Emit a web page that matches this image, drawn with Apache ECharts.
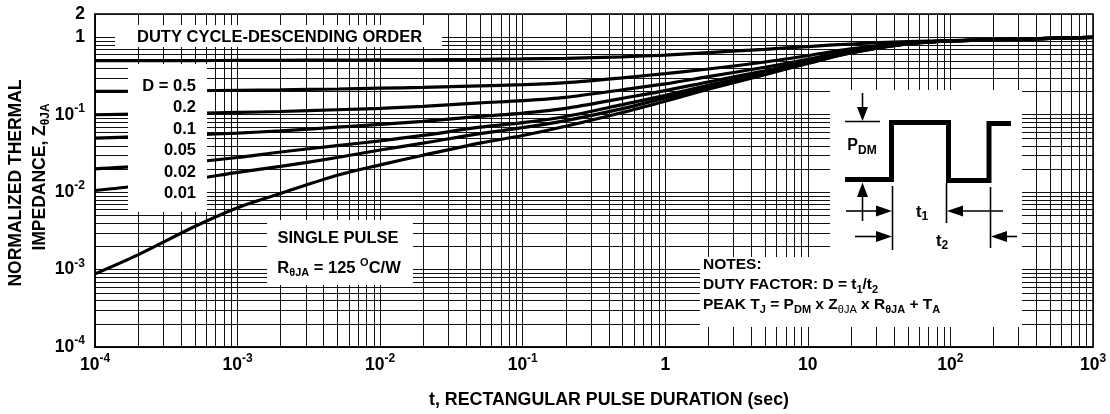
<!DOCTYPE html>
<html><head><meta charset="utf-8">
<script src="https://cdn.jsdelivr.net/npm/echarts@6/dist/echarts.min.js"></script>
<style>html,body{margin:0;padding:0;background:#fff}#c{width:1110px;height:414px}</style>
</head><body><div id="c"></div>
<script>
// ---------------- DATA ----------------
const tValues = [1e-4, 2e-4, 5e-4, 1e-3, 2e-3, 5e-3, 1e-2, 2e-2, 5e-2, 0.1, 0.2, 0.5, 1, 2, 5, 10, 20, 50, 100, 200, 500, 1000];
const zD050 = [0.5, 0.5, 0.501, 0.503, 0.505, 0.507, 0.51, 0.513, 0.518, 0.525, 0.535, 0.56, 0.59, 0.635, 0.7, 0.76, 0.82, 0.88, 0.91, 0.935, 0.97, 1.0];
const zD020 = [0.2, 0.201, 0.204, 0.207, 0.21, 0.215, 0.22, 0.226, 0.236, 0.245, 0.26, 0.3, 0.34, 0.39, 0.48, 0.58, 0.71, 0.85, 0.9, 0.93, 0.97, 1.0];
const zD010 = [0.1, 0.102, 0.104, 0.107, 0.11, 0.116, 0.121, 0.128, 0.142, 0.152, 0.168, 0.21, 0.25, 0.31, 0.41, 0.52, 0.67, 0.84, 0.9, 0.93, 0.97, 1.0];
const zD005 = [0.05, 0.052, 0.055, 0.058, 0.062, 0.069, 0.075, 0.082, 0.095, 0.105, 0.121, 0.163, 0.205, 0.265, 0.37, 0.49, 0.65, 0.83, 0.9, 0.93, 0.97, 1.0];
const zD002 = [0.02, 0.0215, 0.0245, 0.028, 0.033, 0.04, 0.046, 0.054, 0.069, 0.079, 0.095, 0.135, 0.178, 0.24, 0.35, 0.48, 0.64, 0.83, 0.9, 0.93, 0.97, 1.0];
const zD001 = [0.0105, 0.012, 0.0148, 0.018, 0.0215, 0.028, 0.035, 0.043, 0.057, 0.068, 0.084, 0.12, 0.165, 0.225, 0.34, 0.47, 0.635, 0.825, 0.9, 0.93, 0.97, 1.0];
const zSingle = [0.00088, 0.00155, 0.0036, 0.0063, 0.0096, 0.0165, 0.0225, 0.03, 0.043, 0.054, 0.071, 0.107, 0.15, 0.213, 0.33, 0.46, 0.63, 0.82, 0.9, 0.93, 0.97, 1.0];
const dutyLabels = ['D = 0.5', '0.2', '0.1', '0.05', '0.02', '0.01'];
const xMin = 1e-4, xMax = 1e3, yMin = 1e-4, yMax = 2;
const xDecades = [-4, -3, -2, -1, 0, 1, 2];
const yDecades = [-4, -3, -2, -1];
const minorMultipliers = [2, 3, 4, 5, 6, 7, 8, 9];

// ---------------- BUILD ----------------
const FF = "'Liberation Sans', Arial, Helvetica, sans-serif";
const xMinor = [], yMinor = [];
xDecades.forEach(e => minorMultipliers.forEach(m => xMinor.push(m * Math.pow(10, e))));
yDecades.forEach(e => minorMultipliers.forEach(m => yMinor.push(m * Math.pow(10, e))));

function tickLabel(v) {
  if (Math.abs(v - 2) < 1e-9) return '{n|2}';
  const e = Math.round(Math.log10(v));
  if (e === 0) return '{n|1}';
  if (e === 1) return '{n|10}';
  return '{n|10}{s|' + e + '}';
}
const labelRich = {
  n: {fontFamily: FF, fontWeight: 'bold', fontSize: 17.5, lineHeight: 24, color: '#000'},
  s: {fontFamily: FF, fontWeight: 'bold', fontSize: 12, lineHeight: 12, verticalAlign: 'top', color: '#000'}
};
function rich(F, r) {
  const sf = Math.round(F * (r || 0.68));
  return {
    n: {fontFamily: FF, fontWeight: 'bold', fontSize: F, lineHeight: F + 5, fill: '#000'},
    sub: {fontFamily: FF, fontWeight: 'bold', fontSize: sf, lineHeight: sf, verticalAlign: 'bottom', fill: '#000'},
    subn: {fontFamily: FF, fontWeight: 'normal', fontSize: sf, lineHeight: sf, verticalAlign: 'bottom', fill: '#000'},
    sup: {fontFamily: FF, fontWeight: 'bold', fontSize: sf, lineHeight: sf, verticalAlign: 'top', fill: '#000'}
  };
}
const Z = 100;
function rect(x, y, w, h) {
  return {type: 'rect', z: Z, shape: {x, y, width: w, height: h}, style: {fill: '#fff'}, silent: true};
}
function txt(x, y, text, F, align, extra, r) {
  return Object.assign({type: 'text', z: Z + 2, x, y, silent: true,
    style: {text, rich: rich(F, r), fill: '#000', font: 'bold ' + F + 'px ' + FF, align: align || 'left', verticalAlign: 'middle'}}, extra || {});
}
function ln(x1, y1, x2, y2, w) {
  return {type: 'line', z: Z + 1, silent: true, shape: {x1, y1, x2, y2}, style: {stroke: '#000', lineWidth: w || 1.6}};
}
function tri(points) {
  return {type: 'polygon', z: Z + 1, silent: true, shape: {points}, style: {fill: '#000'}};
}

const elements = [
  // white boxes
  rect(115, 25, 327, 22),
  rect(128, 64, 79, 148),
  rect(267, 220, 146, 65),
  rect(830, 90, 192, 168),
  rect(700, 257, 322, 70),
  // box texts
  txt(137, 37, '{n|DUTY CYCLE-DESCENDING ORDER}', 16.5),
  txt(338, 238, '{n|SINGLE PULSE}', 16.5, 'center'),
  txt(339, 268, '{n|R}{sub|θJA}{n| = 125 }{sup|O}{n|C/W}', 16.5, 'center'),
  txt(703, 265, '{n|NOTES:}', 15.5, 'left', null, 0.74),
  txt(703, 285, '{n|DUTY FACTOR: D = t}{sub|1}{n|/t}{sub|2}', 15.5, 'left', null, 0.74),
  txt(703, 305, '{n|PEAK T}{sub|J}{n| = P}{sub|DM}{n| x Z}{subn|θJA}{n| x R}{sub|θJA}{n| + T}{sub|A}', 15.5, 'left', null, 0.74),
  // axis titles
  txt(609, 400, '{n|t, RECTANGULAR PULSE DURATION (sec)}', 17.8, 'center'),
  txt(16, 183, '{n|NORMALIZED THERMAL}', 17.5, 'center', {rotation: Math.PI / 2}),
  txt(40, 177, '{n|IMPEDANCE, Z}{sub|θJA}', 17.5, 'center', {rotation: Math.PI / 2}),
  // pulse diagram
  {type: 'polyline', z: Z + 1, silent: true,
    shape: {points: [[845, 179.5], [891.5, 179.5], [891.5, 122.5], [948.5, 122.5], [948.5, 180.5], [989, 180.5], [989, 123.5], [1011, 123.5]]},
    style: {stroke: '#000', lineWidth: 5, fill: null, lineJoin: 'miter', lineCap: 'butt'}},
  ln(845, 121.5, 880, 121.5, 1.6),
  ln(862.5, 93, 862.5, 110, 1.6),
  tri([[857, 107], [868, 107], [862.5, 121]]),
  ln(862.5, 196, 862.5, 221, 1.6),
  tri([[857, 197], [868, 197], [862.5, 182.5]]),
  ln(892.5, 186, 892.5, 250, 1.6),
  ln(946.5, 183, 946.5, 223, 1.6),
  ln(990.5, 187, 990.5, 248, 1.6),
  ln(846, 211, 878, 211, 1.6),
  tri([[876, 205.5], [876, 216.5], [892, 211]]),
  ln(963, 211, 1003, 211, 1.6),
  tri([[963, 205.5], [963, 216.5], [947, 211]]),
  ln(855, 236.5, 878, 236.5, 1.6),
  tri([[876, 231], [876, 242], [892, 236.5]]),
  ln(1005, 236.5, 1017, 236.5, 1.6),
  tri([[1007, 231], [1007, 242], [991, 236.5]]),
  txt(862, 146, '{n|P}{sub|DM}', 16, 'center', null, 0.74),
  txt(922, 212, '{n|t}{sub|1}', 16.5, 'center', null, 0.74),
  txt(942, 241, '{n|t}{sub|2}', 16.5, 'center', null, 0.74)
];
// duty labels
dutyLabels.forEach((s, i) => {
  elements.push(txt(196, 86 + i * 21.5, '{n|' + s + '}', 16.5, 'right'));
});

const curveArrays = [zD050, zD020, zD010, zD005, zD002, zD001, zSingle];
const curveSeries = curveArrays.map((arr, k) => ({
  type: 'line', name: 'c' + k, silent: true, symbol: 'none', smooth: 0.3, z: 5,
  lineStyle: {color: '#000', width: 3.2},
  data: tValues.map((t, i) => [t, arr[i]])
}));

// minor grid lines drawn through the axes' scales, snapped to whole pixels
const vGrid = {
  type: 'custom', silent: true, z: 1, clip: true,
  data: xMinor.map(v => [v, yMin]),
  renderItem: (params, api) => {
    const a = api.coord([api.value(0), yMin]);
    const b = api.coord([api.value(0), yMax]);
    const px = Math.round(a[0]) + 0.5;
    return {type: 'line', shape: {x1: px, y1: a[1], x2: px, y2: b[1]}, style: {stroke: '#111', lineWidth: 1}};
  }
};
const hGrid = {
  type: 'custom', silent: true, z: 1, clip: true,
  data: yMinor.map(v => [xMin, v]),
  renderItem: (params, api) => {
    const a = api.coord([xMin, api.value(1)]);
    const b = api.coord([xMax, api.value(1)]);
    const py = Math.round(a[1]) + 0.5;
    return {type: 'line', shape: {x1: a[0], y1: py, x2: b[0], y2: py}, style: {stroke: '#111', lineWidth: 1}};
  }
};

const chart = echarts.init(document.getElementById('c'), null, {renderer: 'canvas'});
chart.setOption({
  animation: false,
  backgroundColor: '#fff',
  grid: {left: 95, right: 17, top: 14, bottom: 67, show: true, borderColor: '#000', borderWidth: 1.5, backgroundColor: 'transparent'},
  xAxis: {
    type: 'log', logBase: 10, min: xMin, max: xMax,
    axisLine: {show: true, lineStyle: {color: '#000', width: 1.5}},
    axisTick: {show: false},
    splitLine: {show: true, lineStyle: {color: '#111', width: 1}},
    axisLabel: {margin: 6, formatter: tickLabel, rich: labelRich}
  },
  yAxis: {
    type: 'log', logBase: 10, min: yMin, max: yMax,
    axisLine: {show: true, lineStyle: {color: '#000', width: 1.5}},
    axisTick: {show: false},
    splitLine: {show: true, lineStyle: {color: '#111', width: 1}},
    axisLabel: {margin: 10, formatter: tickLabel, rich: labelRich}
  },
  series: [vGrid, hGrid].concat(curveSeries),
  graphic: {elements}
});
</script>
</body></html>
